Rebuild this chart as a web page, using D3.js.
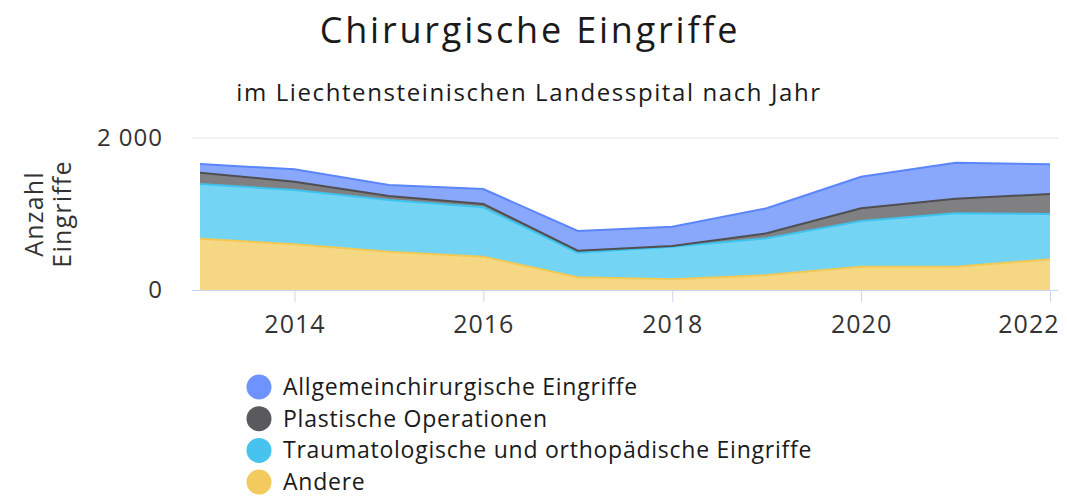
<!DOCTYPE html>
<html><head><meta charset="utf-8">
<script src="https://cdn.jsdelivr.net/npm/d3@7"></script>
<style>
html,body{margin:0;padding:0;background:#fff;}
svg{display:block;font-family:"Open Sans",sans-serif;}
</style></head>
<body>
<svg id="c" width="1067" height="497"></svg>
<script>
const years = [2013,2014,2015,2016,2017,2018,2019,2020,2021,2022];
const andere = [675,601,504,439,167,140,197,307,307,404];
const trauma = [720,715,680,649,324,430,483,601,702,596];
const plastisch = [148,109,53,44,27,9,66,167,193,263];
const allgemein = [115,163,145,197,258,254,329,416,473,391];
const seriesNames = ["Allgemeinchirurgische Eingriffe","Plastische Operationen","Traumatologische und orthopädische Eingriffe","Andere"];
const seriesKeys = ["allgemein","plastisch","trauma","andere"];
const seriesColors = ["#5b86fb","#4f4f52","#3ec3ef","#f2c955"];
const legendColors = ["#6e93ff","#5a5a5e","#46c3ef","#f3ca5e"];
const yTicks = [0,2000];
const xTicks = [2014,2016,2018,2020,2022];

const svg = d3.select("#c");
const x = d3.scaleLinear().domain([2013,2022]).range([200,1050]);
const y = d3.scaleLinear().domain([0,2000]).range([290,138]);
const fmt = d3.formatLocale({decimal:",",thousands:" ",grouping:[3],currency:["",""]}).format(",");
const plotRight = x(2022)+8;

// title
svg.append("text").attr("x",530).attr("y",43).attr("text-anchor","middle")
  .attr("font-size",36).attr("font-weight",500).attr("letter-spacing",2.8).attr("fill","#1a1a1a").text("Chirurgische Eingriffe");
svg.append("text").attr("x",529).attr("y",101).attr("text-anchor","middle")
  .attr("font-size",24).attr("letter-spacing",1.6).attr("fill","#1a1a1a").text("im Liechtensteinischen Landesspital nach Jahr");

// grid
svg.append("g").selectAll("line").data(yTicks.filter(d=>d>0)).join("line")
  .attr("x1",x(2013)-8).attr("x2",plotRight).attr("y1",d=>y(d)).attr("y2",d=>y(d))
  .attr("stroke","#e6e6e6").attr("stroke-width",1);

// stacked areas
const table = years.map((yr,i)=>({year:yr,andere:andere[i],trauma:trauma[i],plastisch:plastisch[i],allgemein:allgemein[i]}));
const stack = d3.stack().keys(["andere","trauma","plastisch","allgemein"]);
const stacked = stack(table);
const area = d3.area().x(d=>x(d.data.year)).y0(d=>y(d[0])).y1(d=>y(d[1]));
const line = d3.line().x(d=>x(d.data.year)).y(d=>y(d[1]));
const colorOf = k => seriesColors[seriesKeys.indexOf(k)];
const g = svg.append("g");
stacked.forEach(s=>{
  g.append("path").attr("d",area(s)).attr("fill",colorOf(s.key)).attr("fill-opacity",0.72);
});
stacked.forEach(s=>{
  g.append("path").attr("d",line(s)).attr("fill","none").attr("stroke",colorOf(s.key)).attr("stroke-width",2);
});

// x axis
svg.append("line").attr("x1",x(2013)-8).attr("x2",plotRight).attr("y1",y(0)+0.5).attr("y2",y(0)+0.5)
  .attr("stroke","#ccd6eb").attr("stroke-width",1);
const xa = svg.append("g").attr("transform",`translate(0,${y(0)})`)
  .call(d3.axisBottom(x).tickValues(xTicks).tickFormat(d3.format("d")).tickSize(12).tickPadding(13));
xa.select(".domain").remove();
xa.selectAll(".tick line").attr("stroke","#ccd6eb");
xa.selectAll(".tick text").attr("font-size",25).attr("letter-spacing",1).attr("fill","#333").attr("font-family","Open Sans")
  .each(function(d){
    const w = this.getComputedTextLength();
    const over = x(d) + w/2 - (plotRight+1);
    if (over > 0) d3.select(this).attr("x", -over);
  });

// y axis labels
const ya = svg.append("g").attr("transform",`translate(175,0)`)
  .call(d3.axisLeft(y).tickValues(yTicks).tickFormat(fmt).tickSize(0).tickPadding(12));
ya.select(".domain").remove();
ya.selectAll(".tick text").attr("font-size",24).attr("letter-spacing",1).attr("fill","#333").attr("font-family","Open Sans");

// y title
const yt = svg.append("text").attr("transform","translate(0,214) rotate(-90)")
  .attr("text-anchor","middle").attr("font-size",25).attr("letter-spacing",1.2).attr("fill","#333");
yt.append("tspan").attr("x",0).attr("y",43).text("Anzahl");
yt.append("tspan").attr("x",0).attr("y",71).text("Eingriffe");

// legend
const lg = svg.append("g");
seriesNames.forEach((n,i)=>{
  const cy = 387 + i*31.7;
  lg.append("circle").attr("cx",259).attr("cy",cy).attr("r",12.5).attr("fill",legendColors[i]);
  lg.append("text").attr("x",283).attr("y",cy).attr("dy","0.35em").attr("font-size",23).attr("letter-spacing",0.75).attr("fill","#1a1a1a").text(n);
});
</script>
</body></html>
